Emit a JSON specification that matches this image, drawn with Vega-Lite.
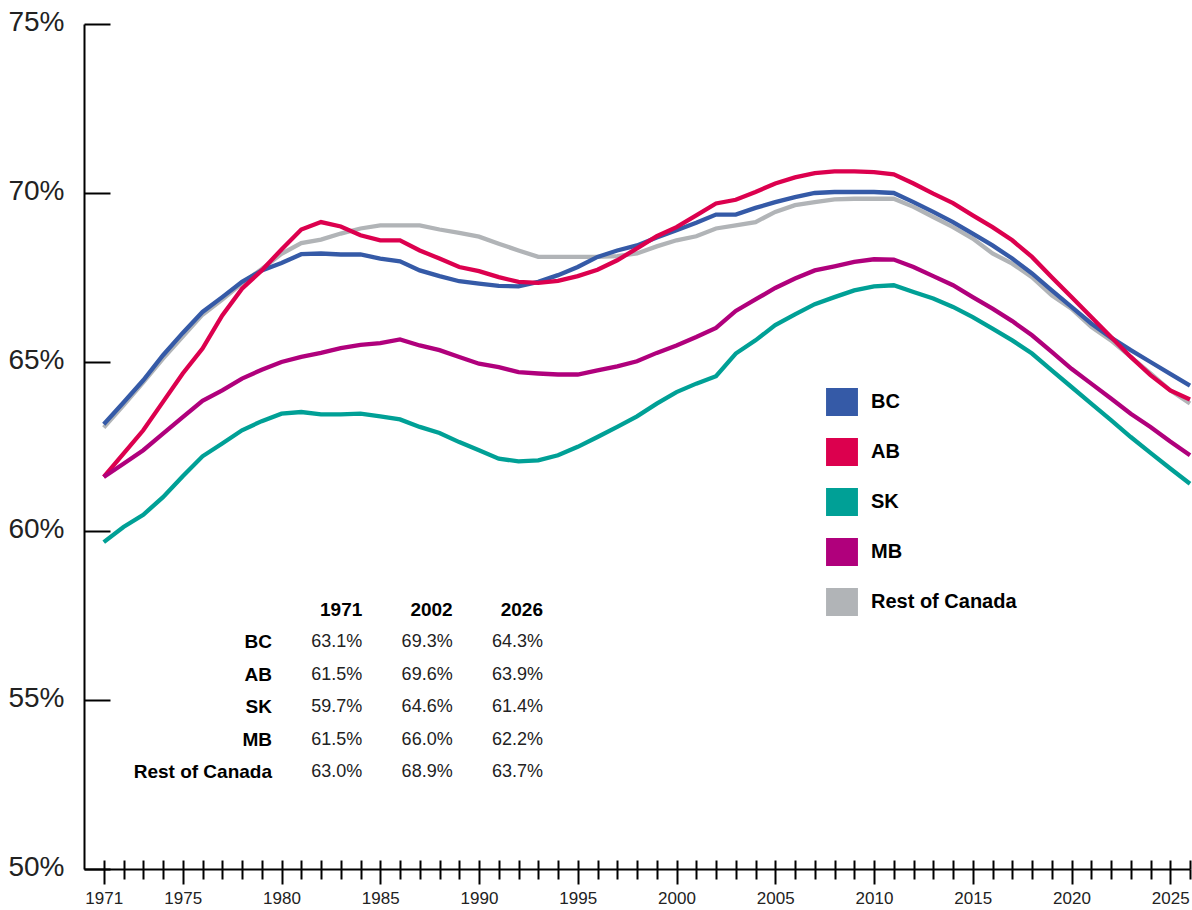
{
  "$schema": "https://vega.github.io/schema/vega-lite/v6.json",
  "width": 1106,
  "height": 845,
  "autosize": {"type": "none"},
  "padding": {"left": 84, "top": 24, "right": 2, "bottom": 41},
  "background": "white",
  "config": {"view": {"stroke": null}, "font": "Liberation Sans"},
  "datasets": {
    "series": [
      {"region":"BC","year":1971,"value":63.16},{"region":"BC","year":1972,"value":63.8},{"region":"BC","year":1973,"value":64.46},{"region":"BC","year":1974,"value":65.2},{"region":"BC","year":1975,"value":65.86},{"region":"BC","year":1976,"value":66.48},{"region":"BC","year":1977,"value":66.92},{"region":"BC","year":1978,"value":67.37},{"region":"BC","year":1979,"value":67.71},{"region":"BC","year":1980,"value":67.93},{"region":"BC","year":1981,"value":68.19},{"region":"BC","year":1982,"value":68.21},{"region":"BC","year":1983,"value":68.18},{"region":"BC","year":1984,"value":68.18},{"region":"BC","year":1985,"value":68.06},{"region":"BC","year":1986,"value":67.98},{"region":"BC","year":1987,"value":67.71},{"region":"BC","year":1988,"value":67.54},{"region":"BC","year":1989,"value":67.39},{"region":"BC","year":1990,"value":67.32},{"region":"BC","year":1991,"value":67.25},{"region":"BC","year":1992,"value":67.24},{"region":"BC","year":1993,"value":67.37},{"region":"BC","year":1994,"value":67.57},{"region":"BC","year":1995,"value":67.81},{"region":"BC","year":1996,"value":68.11},{"region":"BC","year":1997,"value":68.3},{"region":"BC","year":1998,"value":68.45},{"region":"BC","year":1999,"value":68.68},{"region":"BC","year":2000,"value":68.9},{"region":"BC","year":2001,"value":69.12},{"region":"BC","year":2002,"value":69.36},{"region":"BC","year":2003,"value":69.36},{"region":"BC","year":2004,"value":69.56},{"region":"BC","year":2005,"value":69.73},{"region":"BC","year":2006,"value":69.88},{"region":"BC","year":2007,"value":70.0},{"region":"BC","year":2008,"value":70.03},{"region":"BC","year":2009,"value":70.03},{"region":"BC","year":2010,"value":70.03},{"region":"BC","year":2011,"value":70.0},{"region":"BC","year":2012,"value":69.73},{"region":"BC","year":2013,"value":69.44},{"region":"BC","year":2014,"value":69.14},{"region":"BC","year":2015,"value":68.8},{"region":"BC","year":2016,"value":68.45},{"region":"BC","year":2017,"value":68.06},{"region":"BC","year":2018,"value":67.62},{"region":"BC","year":2019,"value":67.12},{"region":"BC","year":2020,"value":66.63},{"region":"BC","year":2021,"value":66.14},{"region":"BC","year":2022,"value":65.72},{"region":"BC","year":2023,"value":65.35},{"region":"BC","year":2024,"value":65.0},{"region":"BC","year":2025,"value":64.65},{"region":"BC","year":2026,"value":64.3},
      {"region":"AB","year":1971,"value":61.6},{"region":"AB","year":1972,"value":62.29},{"region":"AB","year":1973,"value":62.98},{"region":"AB","year":1974,"value":63.82},{"region":"AB","year":1975,"value":64.66},{"region":"AB","year":1976,"value":65.4},{"region":"AB","year":1977,"value":66.38},{"region":"AB","year":1978,"value":67.17},{"region":"AB","year":1979,"value":67.71},{"region":"AB","year":1980,"value":68.33},{"region":"AB","year":1981,"value":68.92},{"region":"AB","year":1982,"value":69.14},{"region":"AB","year":1983,"value":69.01},{"region":"AB","year":1984,"value":68.75},{"region":"AB","year":1985,"value":68.6},{"region":"AB","year":1986,"value":68.6},{"region":"AB","year":1987,"value":68.3},{"region":"AB","year":1988,"value":68.06},{"region":"AB","year":1989,"value":67.81},{"region":"AB","year":1990,"value":67.69},{"region":"AB","year":1991,"value":67.51},{"region":"AB","year":1992,"value":67.37},{"region":"AB","year":1993,"value":67.34},{"region":"AB","year":1994,"value":67.4},{"region":"AB","year":1995,"value":67.54},{"region":"AB","year":1996,"value":67.73},{"region":"AB","year":1997,"value":68.01},{"region":"AB","year":1998,"value":68.36},{"region":"AB","year":1999,"value":68.72},{"region":"AB","year":2000,"value":68.99},{"region":"AB","year":2001,"value":69.34},{"region":"AB","year":2002,"value":69.69},{"region":"AB","year":2003,"value":69.8},{"region":"AB","year":2004,"value":70.03},{"region":"AB","year":2005,"value":70.28},{"region":"AB","year":2006,"value":70.46},{"region":"AB","year":2007,"value":70.59},{"region":"AB","year":2008,"value":70.64},{"region":"AB","year":2009,"value":70.64},{"region":"AB","year":2010,"value":70.62},{"region":"AB","year":2011,"value":70.55},{"region":"AB","year":2012,"value":70.28},{"region":"AB","year":2013,"value":69.98},{"region":"AB","year":2014,"value":69.7},{"region":"AB","year":2015,"value":69.34},{"region":"AB","year":2016,"value":68.99},{"region":"AB","year":2017,"value":68.6},{"region":"AB","year":2018,"value":68.11},{"region":"AB","year":2019,"value":67.51},{"region":"AB","year":2020,"value":66.92},{"region":"AB","year":2021,"value":66.33},{"region":"AB","year":2022,"value":65.74},{"region":"AB","year":2023,"value":65.15},{"region":"AB","year":2024,"value":64.61},{"region":"AB","year":2025,"value":64.16},{"region":"AB","year":2026,"value":63.89},
      {"region":"SK","year":1971,"value":59.67},{"region":"SK","year":1972,"value":60.12},{"region":"SK","year":1973,"value":60.48},{"region":"SK","year":1974,"value":61.0},{"region":"SK","year":1975,"value":61.62},{"region":"SK","year":1976,"value":62.21},{"region":"SK","year":1977,"value":62.59},{"region":"SK","year":1978,"value":62.98},{"region":"SK","year":1979,"value":63.25},{"region":"SK","year":1980,"value":63.47},{"region":"SK","year":1981,"value":63.52},{"region":"SK","year":1982,"value":63.45},{"region":"SK","year":1983,"value":63.45},{"region":"SK","year":1984,"value":63.47},{"region":"SK","year":1985,"value":63.39},{"region":"SK","year":1986,"value":63.3},{"region":"SK","year":1987,"value":63.08},{"region":"SK","year":1988,"value":62.9},{"region":"SK","year":1989,"value":62.63},{"region":"SK","year":1990,"value":62.39},{"region":"SK","year":1991,"value":62.14},{"region":"SK","year":1992,"value":62.06},{"region":"SK","year":1993,"value":62.09},{"region":"SK","year":1994,"value":62.24},{"region":"SK","year":1995,"value":62.49},{"region":"SK","year":1996,"value":62.78},{"region":"SK","year":1997,"value":63.08},{"region":"SK","year":1998,"value":63.39},{"region":"SK","year":1999,"value":63.77},{"region":"SK","year":2000,"value":64.11},{"region":"SK","year":2001,"value":64.36},{"region":"SK","year":2002,"value":64.58},{"region":"SK","year":2003,"value":65.25},{"region":"SK","year":2004,"value":65.64},{"region":"SK","year":2005,"value":66.09},{"region":"SK","year":2006,"value":66.41},{"region":"SK","year":2007,"value":66.71},{"region":"SK","year":2008,"value":66.92},{"region":"SK","year":2009,"value":67.12},{"region":"SK","year":2010,"value":67.24},{"region":"SK","year":2011,"value":67.27},{"region":"SK","year":2012,"value":67.07},{"region":"SK","year":2013,"value":66.88},{"region":"SK","year":2014,"value":66.63},{"region":"SK","year":2015,"value":66.33},{"region":"SK","year":2016,"value":65.99},{"region":"SK","year":2017,"value":65.64},{"region":"SK","year":2018,"value":65.25},{"region":"SK","year":2019,"value":64.75},{"region":"SK","year":2020,"value":64.26},{"region":"SK","year":2021,"value":63.77},{"region":"SK","year":2022,"value":63.28},{"region":"SK","year":2023,"value":62.78},{"region":"SK","year":2024,"value":62.31},{"region":"SK","year":2025,"value":61.85},{"region":"SK","year":2026,"value":61.4},
      {"region":"MB","year":1971,"value":61.6},{"region":"MB","year":1972,"value":61.99},{"region":"MB","year":1973,"value":62.39},{"region":"MB","year":1974,"value":62.88},{"region":"MB","year":1975,"value":63.37},{"region":"MB","year":1976,"value":63.85},{"region":"MB","year":1977,"value":64.16},{"region":"MB","year":1978,"value":64.51},{"region":"MB","year":1979,"value":64.77},{"region":"MB","year":1980,"value":65.0},{"region":"MB","year":1981,"value":65.15},{"region":"MB","year":1982,"value":65.27},{"region":"MB","year":1983,"value":65.41},{"region":"MB","year":1984,"value":65.51},{"region":"MB","year":1985,"value":65.56},{"region":"MB","year":1986,"value":65.67},{"region":"MB","year":1987,"value":65.49},{"region":"MB","year":1988,"value":65.35},{"region":"MB","year":1989,"value":65.15},{"region":"MB","year":1990,"value":64.95},{"region":"MB","year":1991,"value":64.85},{"region":"MB","year":1992,"value":64.7},{"region":"MB","year":1993,"value":64.66},{"region":"MB","year":1994,"value":64.63},{"region":"MB","year":1995,"value":64.63},{"region":"MB","year":1996,"value":64.75},{"region":"MB","year":1997,"value":64.87},{"region":"MB","year":1998,"value":65.02},{"region":"MB","year":1999,"value":65.27},{"region":"MB","year":2000,"value":65.49},{"region":"MB","year":2001,"value":65.74},{"region":"MB","year":2002,"value":66.01},{"region":"MB","year":2003,"value":66.51},{"region":"MB","year":2004,"value":66.85},{"region":"MB","year":2005,"value":67.19},{"region":"MB","year":2006,"value":67.47},{"region":"MB","year":2007,"value":67.71},{"region":"MB","year":2008,"value":67.83},{"region":"MB","year":2009,"value":67.96},{"region":"MB","year":2010,"value":68.04},{"region":"MB","year":2011,"value":68.03},{"region":"MB","year":2012,"value":67.81},{"region":"MB","year":2013,"value":67.54},{"region":"MB","year":2014,"value":67.27},{"region":"MB","year":2015,"value":66.92},{"region":"MB","year":2016,"value":66.58},{"region":"MB","year":2017,"value":66.21},{"region":"MB","year":2018,"value":65.79},{"region":"MB","year":2019,"value":65.3},{"region":"MB","year":2020,"value":64.8},{"region":"MB","year":2021,"value":64.36},{"region":"MB","year":2022,"value":63.92},{"region":"MB","year":2023,"value":63.47},{"region":"MB","year":2024,"value":63.08},{"region":"MB","year":2025,"value":62.65},{"region":"MB","year":2026,"value":62.24},
      {"region":"Rest of Canada","year":1971,"value":63.06},{"region":"Rest of Canada","year":1972,"value":63.72},{"region":"Rest of Canada","year":1973,"value":64.4},{"region":"Rest of Canada","year":1974,"value":65.1},{"region":"Rest of Canada","year":1975,"value":65.75},{"region":"Rest of Canada","year":1976,"value":66.4},{"region":"Rest of Canada","year":1977,"value":66.85},{"region":"Rest of Canada","year":1978,"value":67.33},{"region":"Rest of Canada","year":1979,"value":67.75},{"region":"Rest of Canada","year":1980,"value":68.2},{"region":"Rest of Canada","year":1981,"value":68.52},{"region":"Rest of Canada","year":1982,"value":68.62},{"region":"Rest of Canada","year":1983,"value":68.8},{"region":"Rest of Canada","year":1984,"value":68.95},{"region":"Rest of Canada","year":1985,"value":69.04},{"region":"Rest of Canada","year":1986,"value":69.04},{"region":"Rest of Canada","year":1987,"value":69.04},{"region":"Rest of Canada","year":1988,"value":68.92},{"region":"Rest of Canada","year":1989,"value":68.82},{"region":"Rest of Canada","year":1990,"value":68.71},{"region":"Rest of Canada","year":1991,"value":68.5},{"region":"Rest of Canada","year":1992,"value":68.3},{"region":"Rest of Canada","year":1993,"value":68.11},{"region":"Rest of Canada","year":1994,"value":68.11},{"region":"Rest of Canada","year":1995,"value":68.11},{"region":"Rest of Canada","year":1996,"value":68.11},{"region":"Rest of Canada","year":1997,"value":68.13},{"region":"Rest of Canada","year":1998,"value":68.21},{"region":"Rest of Canada","year":1999,"value":68.42},{"region":"Rest of Canada","year":2000,"value":68.6},{"region":"Rest of Canada","year":2001,"value":68.72},{"region":"Rest of Canada","year":2002,"value":68.95},{"region":"Rest of Canada","year":2003,"value":69.04},{"region":"Rest of Canada","year":2004,"value":69.14},{"region":"Rest of Canada","year":2005,"value":69.44},{"region":"Rest of Canada","year":2006,"value":69.64},{"region":"Rest of Canada","year":2007,"value":69.73},{"region":"Rest of Canada","year":2008,"value":69.81},{"region":"Rest of Canada","year":2009,"value":69.83},{"region":"Rest of Canada","year":2010,"value":69.83},{"region":"Rest of Canada","year":2011,"value":69.83},{"region":"Rest of Canada","year":2012,"value":69.59},{"region":"Rest of Canada","year":2013,"value":69.29},{"region":"Rest of Canada","year":2014,"value":68.99},{"region":"Rest of Canada","year":2015,"value":68.65},{"region":"Rest of Canada","year":2016,"value":68.21},{"region":"Rest of Canada","year":2017,"value":67.91},{"region":"Rest of Canada","year":2018,"value":67.51},{"region":"Rest of Canada","year":2019,"value":66.97},{"region":"Rest of Canada","year":2020,"value":66.58},{"region":"Rest of Canada","year":2021,"value":66.04},{"region":"Rest of Canada","year":2022,"value":65.64},{"region":"Rest of Canada","year":2023,"value":65.15},{"region":"Rest of Canada","year":2024,"value":64.66},{"region":"Rest of Canada","year":2025,"value":64.16},{"region":"Rest of Canada","year":2026,"value":63.77}
    ],
    "table": [
      {"row":"header","col":"1971","text":"1971"},{"row":"header","col":"2002","text":"2002"},{"row":"header","col":"2026","text":"2026"},
      {"row":"BC","col":"label","text":"BC"},{"row":"BC","col":"1971","text":"63.1%"},{"row":"BC","col":"2002","text":"69.3%"},{"row":"BC","col":"2026","text":"64.3%"},
      {"row":"AB","col":"label","text":"AB"},{"row":"AB","col":"1971","text":"61.5%"},{"row":"AB","col":"2002","text":"69.6%"},{"row":"AB","col":"2026","text":"63.9%"},
      {"row":"SK","col":"label","text":"SK"},{"row":"SK","col":"1971","text":"59.7%"},{"row":"SK","col":"2002","text":"64.6%"},{"row":"SK","col":"2026","text":"61.4%"},
      {"row":"MB","col":"label","text":"MB"},{"row":"MB","col":"1971","text":"61.5%"},{"row":"MB","col":"2002","text":"66.0%"},{"row":"MB","col":"2026","text":"62.2%"},
      {"row":"Rest of Canada","col":"label","text":"Rest of Canada"},{"row":"Rest of Canada","col":"1971","text":"63.0%"},{"row":"Rest of Canada","col":"2002","text":"68.9%"},{"row":"Rest of Canada","col":"2026","text":"63.7%"}
    ]
  },
  "layer": [
    {
      "data": {"name": "series"},
      "transform": [{"filter": "datum.region === 'Rest of Canada'"}],
      "mark": {"type": "line", "strokeWidth": 4.3},
      "encoding": {
        "x": {"field": "year", "type": "quantitative",
          "scale": {"domain": [1970, 2026], "nice": false, "zero": false},
          "axis": {"orient": "bottom", "values": [1971,1972,1973,1974,1975,1976,1977,1978,1979,1980,1981,1982,1983,1984,1985,1986,1987,1988,1989,1990,1991,1992,1993,1994,1995,1996,1997,1998,1999,2000,2001,2002,2003,2004,2005,2006,2007,2008,2009,2010,2011,2012,2013,2014,2015,2016,2017,2018,2019,2020,2021,2022,2023,2024,2025,2026],
            "tickSize": -9, "tickWidth": 2, "tickColor": "#000", "domain": false, "labels": false, "grid": false, "title": null}},
        "y": {"field": "value", "type": "quantitative", "scale": {"domain": [50, 75], "nice": false, "zero": false}, "axis": null},
        "color": {"field": "region", "type": "nominal",
          "scale": {"domain": ["BC", "AB", "SK", "MB", "Rest of Canada"], "range": ["#355aa7", "#dc004e", "#00a096", "#b0007c", "#b1b4b7"]},
          "legend": {"orient": "none", "legendX": 744, "legendY": 364, "title": null,
            "symbolType": "M-1.14,-1H1.14V1H-1.14Z", "symbolSize": 784, "symbolStrokeWidth": 0,
            "labelFont": "Liberation Sans", "labelFontSize": 20, "labelFontWeight": "bold", "labelColor": "#000",
            "rowPadding": 22, "labelOffset": 15, "padding": 0,
            "encode": {"symbols": {"update": {"fill": {"scale": "color", "field": "value"}, "stroke": {"value": "transparent"}, "opacity": {"value": 1}}}}}}
      }
    },
    {
      "data": {"name": "series"},
      "transform": [{"filter": "datum.region !== 'Rest of Canada'"}],
      "mark": {"type": "line", "strokeWidth": 4.3},
      "encoding": {
        "x": {"field": "year", "type": "quantitative",
          "scale": {"domain": [1970, 2026], "nice": false, "zero": false},
          "axis": {"orient": "bottom", "values": [1971,1972,1973,1974,1975,1976,1977,1978,1979,1980,1981,1982,1983,1984,1985,1986,1987,1988,1989,1990,1991,1992,1993,1994,1995,1996,1997,1998,1999,2000,2001,2002,2003,2004,2005,2006,2007,2008,2009,2010,2011,2012,2013,2014,2015,2016,2017,2018,2019,2020,2021,2022,2023,2024,2025,2026],
            "tickSize": {"condition": {"test": "datum.value === 1971 || datum.value % 5 === 0", "value": 15}, "value": 10},
            "tickWidth": 2, "tickColor": "#000", "domain": true, "domainColor": "#000", "domainWidth": 2,
            "labelExpr": "(datum.value === 1971 || datum.value % 5 === 0) ? datum.label : ''",
            "labelFont": "Liberation Sans", "labelFontSize": 17, "labelColor": "#222", "labelPadding": 6, "labelFlush": false, "labelOverlap": false,
            "format": "d", "grid": false, "title": null}},
        "y": {"field": "value", "type": "quantitative",
          "scale": {"domain": [50, 75], "nice": false, "zero": false},
          "axis": {"values": [50, 55, 60, 65, 70, 75], "tickSize": -26, "tickWidth": 2, "tickColor": "#000",
            "domain": true, "domainColor": "#000", "domainWidth": 2,
            "labelExpr": "datum.value + '%'", "labelFont": "Liberation Sans", "labelFontSize": 28, "labelColor": "#222",
            "labelPadding": 46, "labelOffset": -2, "grid": false, "title": null}},
        "color": {"field": "region", "type": "nominal",
          "scale": {"domain": ["BC", "AB", "SK", "MB", "Rest of Canada"], "range": ["#355aa7", "#dc004e", "#00a096", "#b0007c", "#b1b4b7"]},
          "legend": {"orient": "none", "legendX": 744, "legendY": 364, "title": null,
            "symbolType": "M-1.14,-1H1.14V1H-1.14Z", "symbolSize": 784, "symbolStrokeWidth": 0,
            "labelFont": "Liberation Sans", "labelFontSize": 20, "labelFontWeight": "bold", "labelColor": "#000",
            "rowPadding": 22, "labelOffset": 15, "padding": 0,
            "encode": {"symbols": {"update": {"fill": {"scale": "color", "field": "value"}, "stroke": {"value": "transparent"}, "opacity": {"value": 1}}}}}}
      }
    },
    {
      "data": {"name": "table"},
      "transform": [{"filter": "datum.row === 'header' || datum.col === 'label'"}],
      "mark": {"type": "text", "align": "right", "baseline": "middle", "font": "Liberation Sans", "fontWeight": "bold", "fontSize": 19, "color": "#000"},
      "encoding": {
        "x": {"field": "col", "type": "nominal", "scale": {"type": "point", "domain": ["label", "1971", "2002", "2026"], "range": [188, 459], "padding": 0}, "axis": null},
        "y": {"field": "row", "type": "nominal", "scale": {"type": "point", "domain": ["header", "BC", "AB", "SK", "MB", "Rest of Canada"], "range": [586, 748], "padding": 0}, "axis": null},
        "text": {"field": "text"}
      }
    },
    {
      "data": {"name": "table"},
      "transform": [{"filter": "datum.row !== 'header' && datum.col !== 'label'"}],
      "mark": {"type": "text", "align": "right", "baseline": "middle", "font": "Liberation Sans", "fontSize": 18, "color": "#222"},
      "encoding": {
        "x": {"field": "col", "type": "nominal", "scale": {"type": "point", "domain": ["label", "1971", "2002", "2026"], "range": [188, 459], "padding": 0}, "axis": null},
        "y": {"field": "row", "type": "nominal", "scale": {"type": "point", "domain": ["header", "BC", "AB", "SK", "MB", "Rest of Canada"], "range": [586, 748], "padding": 0}, "axis": null},
        "text": {"field": "text"}
      }
    }
  ],
  "resolve": {"scale": {"x": "independent", "y": "independent"}}
}
